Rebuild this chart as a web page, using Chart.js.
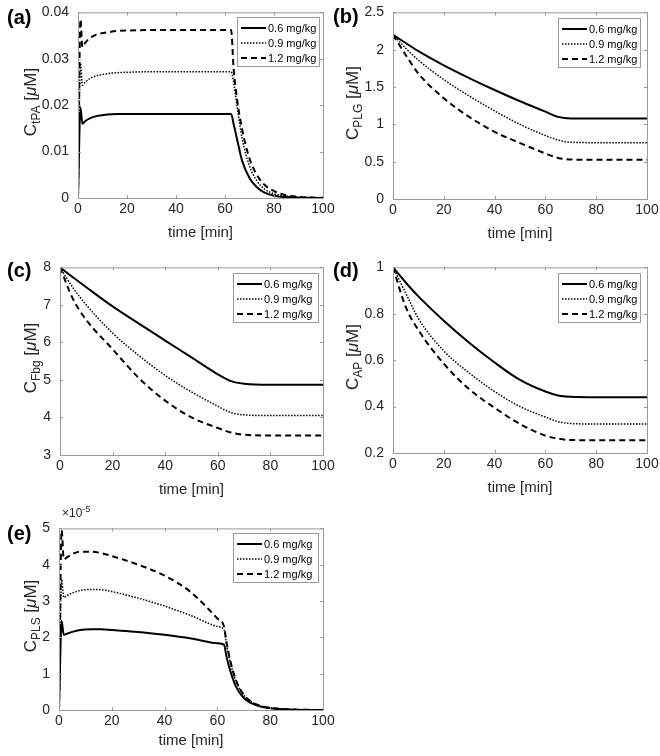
<!DOCTYPE html>
<html>
<head>
<meta charset="utf-8">
<script src="https://cdn.jsdelivr.net/npm/chart.js@4"></script>
<style>
html, body { margin: 0; padding: 0; background: #fff; overflow: hidden; }
#fig { position: relative; width: 660px; height: 756px; overflow: hidden; font-family: "Liberation Sans", Arial, sans-serif; color: #262626; }
#fig canvas { position: absolute; }
.tag { position: absolute; font-weight: bold; font-size: 20px; line-height: 20px; color: #000; }
.ytitle { position: absolute; font-size: 17px; line-height: 17px; white-space: nowrap; transform: translate(-50%, -50%) rotate(-90deg); }
.ytitle sub { font-size: 12px; vertical-align: -4px; line-height: 0; }
.exp { position: absolute; font-size: 12px; line-height: 12px; }
.exp sup { font-size: 9px; vertical-align: 5px; line-height: 0; }
</style>
</head>
<body>
<div id="fig">
  <canvas id="cA" width="10" height="10"></canvas>
  <canvas id="cB" width="10" height="10"></canvas>
  <canvas id="cC" width="10" height="10"></canvas>
  <canvas id="cD" width="10" height="10"></canvas>
  <canvas id="cE" width="10" height="10"></canvas>
  <div class="tag" style="left:7px; top:7px;">(a)</div>
  <div class="tag" style="left:333px; top:6px;">(b)</div>
  <div class="tag" style="left:7px; top:260px;">(c)</div>
  <div class="tag" style="left:333px; top:260px;">(d)</div>
  <div class="tag" style="left:7px; top:523px;">(e)</div>
  <div class="ytitle" style="left:30px; top:102px;">C<sub>tPA</sub> [<i>μ</i>M]</div>
  <div class="ytitle" style="left:352px; top:103px;">C<sub>PLG</sub> [<i>μ</i>M]</div>
  <div class="ytitle" style="left:30px; top:358px;">C<sub>Fbg</sub> [<i>μ</i>M]</div>
  <div class="ytitle" style="left:352px; top:357px;">C<sub>AP</sub> [<i>μ</i>M]</div>
  <div class="ytitle" style="left:30px; top:616px;">C<sub>PLS</sub> [<i>μ</i>M]</div>
  <div class="exp" style="left:62px; top:507px;">×10<sup>-5</sup></div>
</div>
<script>
// doses
var doseLabels = ['0.6 mg/kg', '0.9 mg/kg', '1.2 mg/kg'];

// time grid for (a) and (e), fine near bolus and end of infusion
var timeFast = [0, 1, 1.8, 3, 5, 8, 12, 16, 20, 30, 40, 50, 60, 62.5, 63.5, 65, 67, 70, 73, 76, 80, 85, 90, 95, 100];
// time grid for (b), (c), (d)
var timeSlow = [0, 5, 10, 20, 30, 40, 50, 60, 65, 70, 80, 100];

// (a) tPA
var tpa06 = [0, 0.0195, 0.016, 0.0166, 0.0172, 0.0177, 0.018, 0.0181, 0.0181, 0.0181, 0.0181, 0.0181, 0.0181, 0.0181, 0.016, 0.0125, 0.008, 0.0043, 0.0023, 0.0012, 0.0005, 0.0002, 0.00008, 0.00003, 0.00001];
var tpa09 = [0, 0.029, 0.0243, 0.025, 0.0258, 0.0264, 0.0268, 0.027, 0.0271, 0.0272, 0.0272, 0.0272, 0.0272, 0.0272, 0.025, 0.0195, 0.0128, 0.0069, 0.0037, 0.002, 0.0009, 0.0004, 0.00015, 0.00005, 0.00002];
var tpa12 = [0, 0.0385, 0.0325, 0.0335, 0.0345, 0.0353, 0.0357, 0.036, 0.0361, 0.0362, 0.0362, 0.0362, 0.0362, 0.0362, 0.028, 0.021, 0.0148, 0.0085, 0.005, 0.0029, 0.0015, 0.0006, 0.00025, 0.0001, 0.00003];

// (b) PLG
var plg06 = [2.2, 2.09, 1.98, 1.79, 1.62, 1.46, 1.31, 1.17, 1.1, 1.08, 1.08, 1.08];
var plg09 = [2.2, 2.02, 1.86, 1.6, 1.38, 1.18, 1.0, 0.85, 0.79, 0.76, 0.755, 0.755];
var plg12 = [2.2, 1.93, 1.68, 1.35, 1.1, 0.9, 0.75, 0.61, 0.55, 0.53, 0.525, 0.525];

// (c) Fbg
var fbg06 = [8, 7.73, 7.47, 6.96, 6.5, 6.05, 5.6, 5.15, 4.97, 4.9, 4.87, 4.87];
var fbg09 = [8, 7.45, 7.0, 6.25, 5.65, 5.12, 4.68, 4.3, 4.13, 4.07, 4.05, 4.05];
var fbg12 = [8, 7.15, 6.6, 5.82, 5.05, 4.45, 4.0, 3.72, 3.6, 3.54, 3.52, 3.52];

// (d) AP
var ap06 = [1, 0.935, 0.875, 0.77, 0.675, 0.59, 0.515, 0.465, 0.448, 0.442, 0.44, 0.44];
var ap09 = [1, 0.89, 0.78, 0.64, 0.545, 0.465, 0.4, 0.355, 0.335, 0.327, 0.325, 0.325];
var ap12 = [1, 0.83, 0.73, 0.585, 0.475, 0.395, 0.325, 0.275, 0.262, 0.256, 0.255, 0.255];

// (e) PLS, in units of 1e-5 uM
var pls06 = [0, 2.45, 2.07, 2.1, 2.15, 2.2, 2.22, 2.22, 2.2, 2.15, 2.07, 1.97, 1.84, 1.8, 1.45, 1.05, 0.65, 0.33, 0.18, 0.1, 0.05, 0.02, 0.008, 0.003, 0.001];
var pls09 = [0, 3.6, 3.1, 3.15, 3.22, 3.29, 3.32, 3.31, 3.26, 3.08, 2.86, 2.6, 2.3, 2.2, 1.78, 1.28, 0.8, 0.41, 0.22, 0.12, 0.06, 0.025, 0.01, 0.004, 0.001];
var pls12 = [0, 4.95, 4.15, 4.2, 4.29, 4.36, 4.36, 4.32, 4.24, 4.0, 3.7, 3.24, 2.52, 2.3, 1.85, 1.32, 0.83, 0.42, 0.22, 0.12, 0.06, 0.025, 0.01, 0.004, 0.001];

var xTicks = [0, 20, 40, 60, 80, 100];
var yTicksA = [0, 0.01, 0.02, 0.03, 0.04];
var yTicksB = [0, 0.5, 1, 1.5, 2, 2.5];
var yTicksC = [3, 4, 5, 6, 7, 8];
var yTicksD = [0.2, 0.4, 0.6, 0.8, 1];
var yTicksE = [0, 1, 2, 3, 4, 5];

var FONT = '"Liberation Sans", Arial, sans-serif';
var AXIS = '#9a9a9a';
var styles = [
  { borderWidth: 2, borderDash: [] },
  { borderWidth: 1.5, borderDash: [1.5, 1.5] },
  { borderWidth: 2, borderDash: [6, 4] }
];

var YW = 56, PT = 12, PR = 18;

// box, inward ticks on all four sides
var frame = {
  id: 'frame',
  afterDraw: function(chart) {
    var ctx = chart.ctx, a = chart.chartArea;
    var xs = chart.scales.x, ys = chart.scales.y;
    ctx.save();
    ctx.strokeStyle = AXIS;
    ctx.lineWidth = 1;
    ctx.beginPath();
    xs.ticks.forEach(function(t) {
      var px = Math.round(xs.getPixelForValue(t.value)) + 0.5;
      ctx.moveTo(px, a.bottom); ctx.lineTo(px, a.bottom - 3);
      ctx.moveTo(px, a.top); ctx.lineTo(px, a.top + 3);
    });
    ys.ticks.forEach(function(t) {
      var py = Math.round(ys.getPixelForValue(t.value)) + 0.5;
      ctx.moveTo(a.left, py); ctx.lineTo(a.left + 3, py);
      ctx.moveTo(a.right, py); ctx.lineTo(a.right - 3, py);
    });
    ctx.stroke();
    ctx.strokeRect(a.left + 0.5, a.top + 0.5, a.right - a.left, a.bottom - a.top);
    ctx.restore();
  }
};

// matlab style legend box inside the axes
var boxLegend = {
  id: 'boxLegend',
  afterDraw: function(chart, args, opts) {
    var ctx = chart.ctx, a = chart.chartArea;
    var w = opts.width, h = 49;
    var x0 = Math.round(a.right - opts.right - w), y0 = Math.round(a.top + opts.top);
    ctx.save();
    ctx.fillStyle = '#fff';
    ctx.fillRect(x0, y0, w, h);
    ctx.strokeStyle = AXIS;
    ctx.lineWidth = 1;
    ctx.strokeRect(x0 + 0.5, y0 + 0.5, w, h);
    ctx.font = '11px ' + FONT;
    ctx.textBaseline = 'middle';
    chart.data.datasets.forEach(function(ds, i) {
      var y = y0 + 11 + i * 15;
      ctx.strokeStyle = '#000';
      ctx.lineWidth = ds.borderWidth;
      ctx.setLineDash(ds.borderDash);
      ctx.beginPath();
      ctx.moveTo(x0 + 4, y);
      ctx.lineTo(x0 + 29, y);
      ctx.stroke();
      ctx.setLineDash([]);
      ctx.fillStyle = '#000';
      ctx.fillText(ds.label, x0 + 31, y + 0.5);
    });
    ctx.restore();
  }
};

function makePanel(id, area, times, series, yTicks, leg, xh) {
  var L = area[0], T = area[1], R = area[2], B = area[3];
  var cv = document.getElementById(id);
  cv.width = R - L + YW + PR;
  cv.height = B - T + PT + xh;
  cv.style.left = (L - YW) + 'px';
  cv.style.top = (T - PT) + 'px';

  var datasets = series.map(function(vals, i) {
    return {
      label: doseLabels[i],
      data: times.map(function(t, k) { return { x: t, y: vals[k] }; }),
      borderColor: '#000',
      borderWidth: styles[i].borderWidth,
      borderDash: styles[i].borderDash,
      pointRadius: 0,
      cubicInterpolationMode: 'monotone',
      fill: false
    };
  });

  return new Chart(cv, {
    type: 'line',
    data: { datasets: datasets },
    options: {
      responsive: false,
      animation: false,
      layout: { padding: { left: 0, top: PT, right: PR, bottom: 0 } },
      plugins: {
        legend: { display: false },
        tooltip: { enabled: false },
        boxLegend: leg
      },
      scales: {
        x: {
          type: 'linear',
          min: 0, max: 100,
          afterBuildTicks: function(s) { s.ticks = xTicks.map(function(v) { return { value: v }; }); },
          afterFit: function(s) { s.height = xh; },
          grid: { display: false, drawTicks: false },
          border: { display: false },
          ticks: { padding: 3, color: '#262626', font: { family: FONT, size: 14 }, maxRotation: 0,
                   callback: function(v) { return String(v); } },
          title: { display: true, text: 'time [min]', color: '#262626', padding: 0,
                   font: { family: FONT, size: 15 } }
        },
        y: {
          type: 'linear',
          min: yTicks[0], max: yTicks[yTicks.length - 1],
          afterBuildTicks: function(s) { s.ticks = yTicks.map(function(v) { return { value: v }; }); },
          afterFit: function(s) { s.width = YW; },
          grid: { display: false, drawTicks: false },
          border: { display: false },
          ticks: { padding: 9, color: '#262626', font: { family: FONT, size: 14 },
                   callback: function(v) { return String(v); } }
        }
      }
    },
    plugins: [frame, boxLegend]
  });
}

makePanel('cA', [78, 7, 323, 198], timeFast, [tpa06, tpa09, tpa12], yTicksA, { right: 4, top: 5, width: 82 }, 44);
makePanel('cB', [393, 7, 647, 199], timeSlow, [plg06, plg09, plg12], yTicksB, { right: 7, top: 6, width: 82 }, 44);
makePanel('cC', [60, 262, 323, 455], timeSlow, [fbg06, fbg09, fbg12], yTicksC, { right: 5, top: 6, width: 85 }, 44);
makePanel('cD', [393, 262, 647, 453], timeSlow, [ap06, ap09, ap12], yTicksD, { right: 7, top: 6, width: 82 }, 44);
makePanel('cE', [59, 523, 323, 710], timeFast, [pls06, pls09, pls12], yTicksE, { right: 5, top: 5, width: 85 }, 40);
</script>
</body>
</html>
